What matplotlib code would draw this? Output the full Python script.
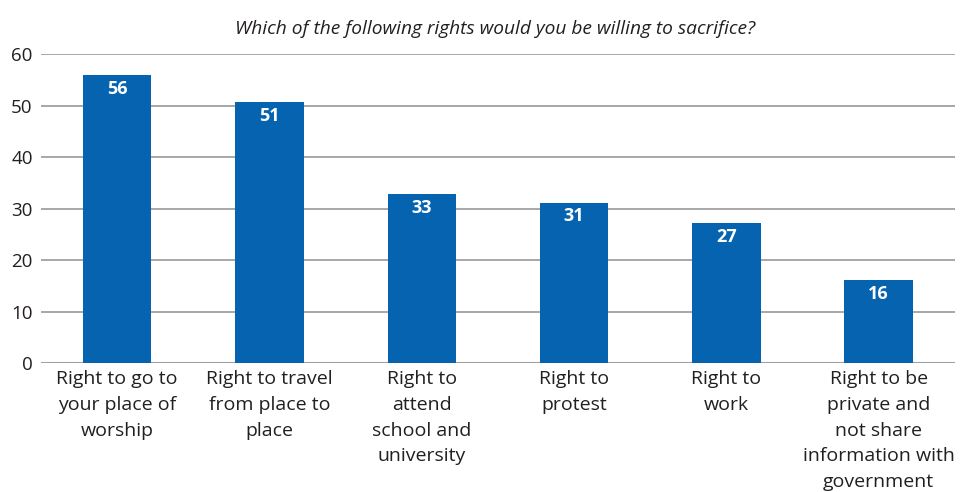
import matplotlib.pyplot as plt

# Datos
categorias = [
    "Right to go to\nyour place of\nworship",
    "Right to travel\nfrom place to\nplace",
    "Right to\nattend\nschool and\nuniversity",
    "Right to\nprotest",
    "Right to\nwork",
    "Right to be\nprivate and\nnot share\ninformation with\ngovernment",
]
valores = [55.9, 50.6, 32.8, 31.1, 27.2, 16.1]
etiquetas = ["56", "51", "33", "31", "27", "16"]
yticks = [0, 10, 20, 30, 40, 50, 60]

azul = "#0563b0"
plt.rcParams['font.family'] = ['Open Sans', 'DejaVu Sans']

fig = plt.figure(figsize=(9.65, 4.92), dpi=100)
ax = fig.add_axes([0.0425, 0.2622, 0.947, 0.628])

x = range(len(categorias))
bars = ax.bar(x, valores, width=0.45, color=azul, zorder=3)

# Etiquetas de valor dentro de las barras
for b, t in zip(bars, etiquetas):
    ax.text(b.get_x() + b.get_width() / 2, b.get_height() - 0.9, t,
            ha='center', va='top', color='white', fontsize=13,
            fontweight='bold', zorder=4)

ax.set_xlim(-0.5, len(categorias) - 0.5)
ax.set_ylim(0, 60)
ax.set_yticks(yticks)
ax.set_xticks(list(x))
ax.set_xticklabels(categorias, fontsize=14, color='#231f20', linespacing=1.56)
ax.tick_params(axis='y', length=0, labelsize=13.5, labelcolor='#231f20', pad=6)
ax.tick_params(axis='x', length=0, pad=5)
ax.grid(axis='y', color='#a0a0a0', linewidth=1.3, zorder=0)
for s in ax.spines.values():
    s.set_visible(False)
ax.axhline(0, color='#a0a0a0', linewidth=1.5, zorder=2)

fig.text(0.513, 0.942, "Which of the following rights would you be willing to sacrifice?",
         ha='center', va='center', fontsize=13.8, style='italic', color='#231f20')

fig.savefig("out.png", dpi=100)
